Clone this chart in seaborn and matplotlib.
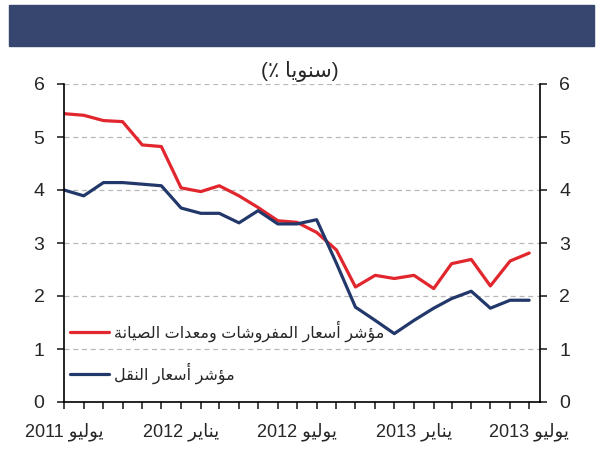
import numpy as np
import pandas as pd
import seaborn as sns
import matplotlib.pyplot as plt
import matplotlib.dates as mdates
from matplotlib.patches import Rectangle


# -----------------------------
# DATA (monthly, Jul 2011 - Jul 2013)
# -----------------------------
months = pd.date_range("2011-07-01", periods=25, freq="MS")

furnishings = [5.44, 5.41, 5.31, 5.29, 4.85, 4.82, 4.04, 3.97, 4.08, 3.89,
               3.67, 3.42, 3.39, 3.20, 2.87, 2.17, 2.39, 2.33, 2.39, 2.14,
               2.61, 2.69, 2.19, 2.66, 2.81]
transport = [4.00, 3.89, 4.14, 4.14, 4.11, 4.08, 3.66, 3.56, 3.56, 3.38,
             3.61, 3.36, 3.36, 3.44, 2.62, 1.79, 1.54, 1.29, 1.54, 1.77,
             1.95, 2.09, 1.77, 1.92, 1.92]

label_furn = "مؤشر أسعار المفروشات ومعدات الصيانة"
label_trans = "مؤشر أسعار النقل"
subtitle_word = "سنويا"
percent_sign = "\u066a"
tick_years = ["2011", "2012", "2012", "2013", "2013"]
tick_words = ["يوليو", "يناير", "يوليو", "يناير", "يوليو"]


# -----------------------------
# minimal arabic shaping (matplotlib has no RTL / joining support)
# (isolated, final, initial, medial)
# -----------------------------
FORMS = {
    "ا": ("\ufe8d", "\ufe8e", None, None),
    "أ": ("\ufe83", "\ufe84", None, None),
    "ؤ": ("\ufe85", "\ufe86", None, None),
    "ة": ("\ufe93", "\ufe94", None, None),
    "د": ("\ufea9", "\ufeaa", None, None),
    "ر": ("\ufead", "\ufeae", None, None),
    "و": ("\ufeed", "\ufeee", None, None),
    "ت": ("\ufe95", "\ufe96", "\ufe97", "\ufe98"),
    "س": ("\ufeb1", "\ufeb2", "\ufeb3", "\ufeb4"),
    "ش": ("\ufeb5", "\ufeb6", "\ufeb7", "\ufeb8"),
    "ص": ("\ufeb9", "\ufeba", "\ufebb", "\ufebc"),
    "ع": ("\ufec9", "\ufeca", "\ufecb", "\ufecc"),
    "ف": ("\ufed1", "\ufed2", "\ufed3", "\ufed4"),
    "ق": ("\ufed5", "\ufed6", "\ufed7", "\ufed8"),
    "ل": ("\ufedd", "\ufede", "\ufedf", "\ufee0"),
    "م": ("\ufee1", "\ufee2", "\ufee3", "\ufee4"),
    "ن": ("\ufee5", "\ufee6", "\ufee7", "\ufee8"),
    "ي": ("\ufef1", "\ufef2", "\ufef3", "\ufef4"),
}


def rtl(text):
    out = []
    for i, ch in enumerate(text):
        if ch not in FORMS:
            out.append(ch)
            continue
        iso, fin, ini, med = FORMS[ch]
        prev = text[i - 1] if i > 0 else ""
        nxt = text[i + 1] if i + 1 < len(text) else ""
        join_prev = prev in FORMS and FORMS[prev][2] is not None
        join_next = ini is not None and nxt in FORMS
        if join_prev and join_next:
            out.append(med)
        elif join_prev:
            out.append(fin)
        elif join_next:
            out.append(ini)
        else:
            out.append(iso)
    return "".join(reversed(out))


df = pd.DataFrame({
    "date": list(months) * 2,
    "value": furnishings + transport,
    "series": [rtl(label_furn)] * len(months) + [rtl(label_trans)] * len(months),
})


# -----------------------------
# PLOT
# -----------------------------
sns.set_style("white")
plt.rcParams["font.family"] = ["Liberation Sans", "DejaVu Sans"]

fig = plt.figure(figsize=(6.1, 4.5), dpi=100)
ax = fig.add_axes([64 / 610, 48 / 450, 476 / 610, 318 / 450])

sns.lineplot(data=df, x="date", y="value", hue="series",
             hue_order=[rtl(label_furn), rtl(label_trans)],
             palette=["#e1262d", "#23386a"], linewidth=2.3, ax=ax)

ax.set_ylim(0, 6)
ax.set_yticks(range(0, 7))
ax.set_xlim(months[0], months[-1] + pd.Timedelta(days=17))
ax.set_xlabel("")
ax.set_ylabel("")

ax.xaxis.set_minor_locator(mdates.MonthLocator())
ax.set_xticks(months[::6])
ax.set_xticklabels([f"{y} {rtl(w)}" for y, w in zip(tick_years, tick_words)])

ax.yaxis.grid(True, linestyle=(0, (4, 3)), color="#b8b8b8", linewidth=0.9)
ax.xaxis.grid(False)

for side in ["left", "right", "bottom"]:
    ax.spines[side].set_color("black")
    ax.spines[side].set_linewidth(1.2)
ax.spines["top"].set_visible(False)

ax.tick_params(axis="y", which="both", direction="out", length=5, width=1.2,
               left=True, right=True, labelleft=True, labelright=True,
               labelsize=14, pad=9)
ax.tick_params(axis="x", which="both", direction="out", length=5, width=1.2,
               bottom=True, labelsize=13, pad=10)

leg = ax.legend(loc="upper left", bbox_to_anchor=(0.0, 0.275), frameon=False,
                fontsize=11.5, handlelength=2.4, handletextpad=0.3,
                labelspacing=1.25, borderaxespad=0)

# header band and subtitle
fig.patches.append(Rectangle((9 / 610, 1 - 46 / 450), 585 / 610, 41 / 450,
                             transform=fig.transFigure, color="#36466f",
                             zorder=0))
fig.text(300 / 610, 1 - 72 / 450,
         "(" + percent_sign + " " + rtl(subtitle_word) + ")",
         ha="center", va="center", fontsize=15)

plt.savefig("out.png", dpi=100)
